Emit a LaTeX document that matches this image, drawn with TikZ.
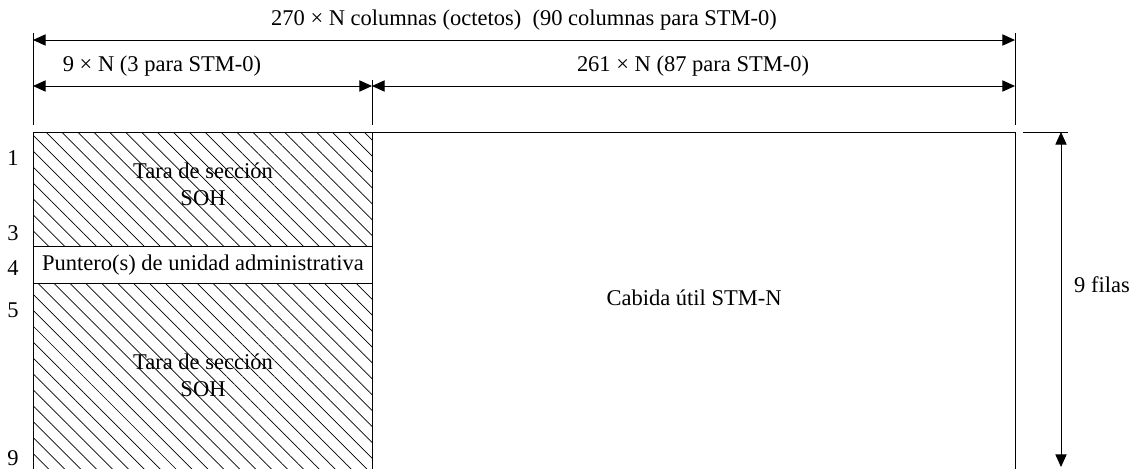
\documentclass[tikz,border=0pt]{standalone}
\usepackage{fontspec}
\setmainfont{Liberation Serif}
\usetikzlibrary{arrows.meta,patterns.meta}

\begin{document}
\begin{tikzpicture}[x=0.025cm, y=-0.025cm, line width=0.7pt, every node/.style={font=\fontsize{16}{19}\selectfont, inner sep=1pt, align=center}, dim/.style={{Triangle[length=9pt,width=8pt]}-{Triangle[length=9pt,width=8pt]}}, ext/.style={line width=0.5pt}, hatch/.style={pattern={Lines[angle=-45,distance=8pt,line width=0.5pt]}}]
				\clip (0,0) rectangle (1138,468);
				
				\coordinate (a) at (33,132);
				\coordinate (b) at (372,132);
				\coordinate (c) at (1015,132);
				\coordinate (d) at (33,480);
				\coordinate (e) at (372,480);
				\coordinate (f) at (1015,480);
				\coordinate (g) at (33,246);
				\coordinate (h) at (372,246);
				\coordinate (i) at (33,283);
				\coordinate (j) at (372,283);
				
				\path[hatch] (a) rectangle (h);
				\path[hatch] (i) rectangle (e);
				\draw (a) rectangle (f);
				\draw (b) -- (e);
				\draw (g) -- (h);
				\draw (i) -- (j);
				
				\coordinate (a1) at (33,33);
				\coordinate (a2) at (33,125);
				\coordinate (b1) at (372,80);
				\coordinate (b2) at (372,125);
				\coordinate (c1) at (1015,33);
				\coordinate (c2) at (1015,125);
				\coordinate (k1) at (1023,132);
				\coordinate (k2) at (1068,132);
				\coordinate (m1) at (1061,132);
				\coordinate (m2) at (1061,467);
				
				\draw[ext] (a1) -- (a2);
				\draw[ext] (b1) -- (b2);
				\draw[ext] (c1) -- (c2);
				\draw[ext] (k1) -- (k2);
				
				\draw[dim] (33,40) -- (1015,40);
				\draw[dim] (33,86) -- (372,86);
				\draw[dim] (372,86) -- (1015,86);
				\draw[dim] (m1) -- (m2);
				
				\node (t1) at (524,20){270 × N columnas (octetos)\ \ (90 columnas para STM-0)};
				\node (t2) at (162,66){9 × N (3 para STM-0)};
				\node (t3) at (693,66){261 × N (87 para STM-0)};
				\node (t4) at (1102,285){9 filas};
				
				\node (s1) at (203,184){Tara de sección\\SOH};
				\node (p) at (203,265){Puntero(s) de unidad administrativa};
				\node (s2) at (203,375){Tara de sección\\SOH};
				\node (u) at (694,298){Cabida útil STM-N};
				
				\node (r1) at (13,158){1};
				\node (r3) at (13,233){3};
				\node (r4) at (13,268){4};
				\node (r5) at (13,310){5};
				\node (r9) at (13,458){9};
				\end{tikzpicture}
\end{document}
